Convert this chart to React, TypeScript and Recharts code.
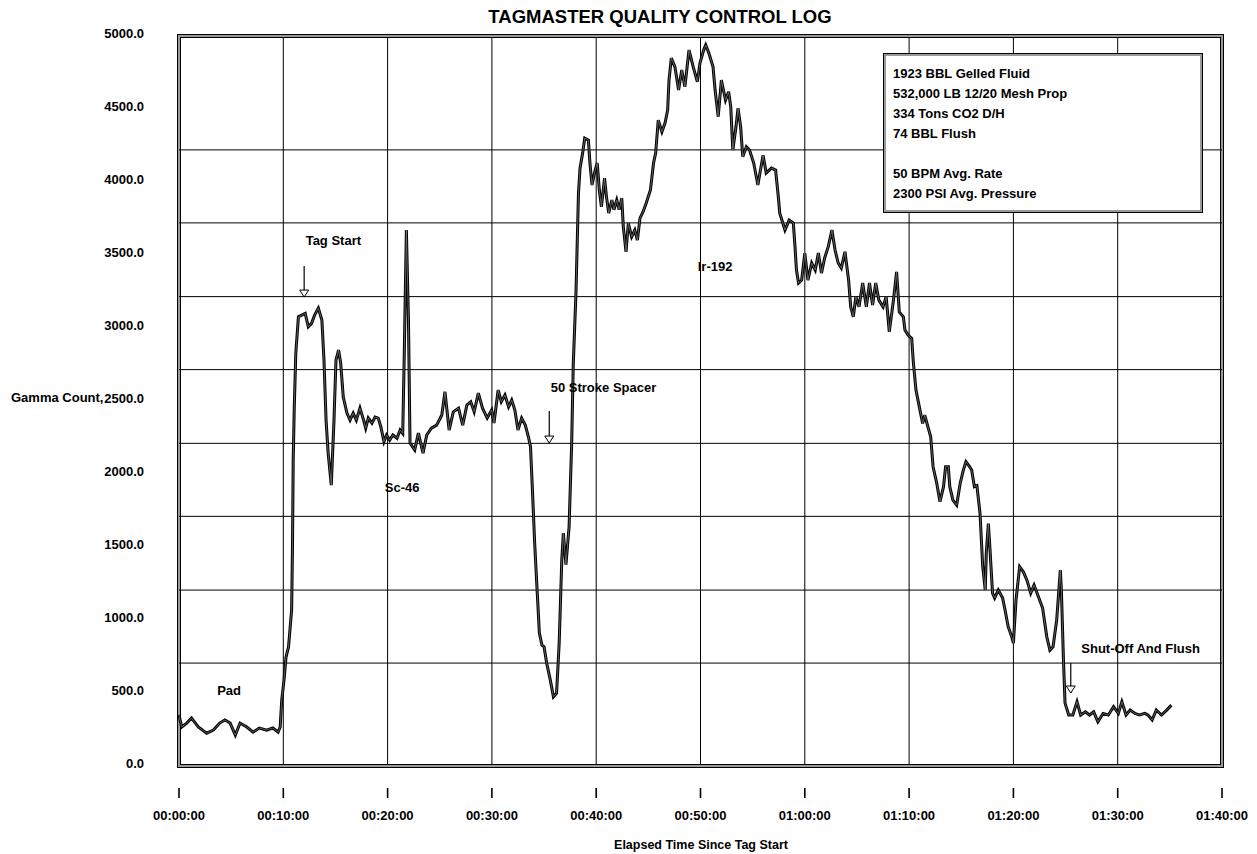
import {
  LineChart,
  Line,
  XAxis,
  YAxis,
  CartesianGrid,
  ReferenceLine,
  ReferenceArea,
  ReferenceDot,
} from 'recharts'

const FONT = "'Liberation Sans', Arial, Helvetica, sans-serif"

// elapsed minutes since tag start
const elapsedMin = [
  0.0, 0.26, 0.74, 1.2, 1.85, 2.65, 3.3, 3.9, 4.4, 4.9, 5.4, 5.85, 6.5, 7.1, 7.7, 8.4, 9.0, 9.5, 9.7,
  9.85, 10.07, 10.26, 10.5, 10.8, 10.88, 10.95, 11.05, 11.2, 11.45, 11.76, 12.1, 12.4, 12.7, 13.0,
  13.36, 13.7, 13.9, 14.1, 14.3, 14.6, 14.86, 15.05, 15.3, 15.5, 15.75, 16.1, 16.4, 16.7, 17.0, 17.35,
  17.7, 17.9, 18.15, 18.5, 18.8, 19.1, 19.35, 19.65, 19.9, 20.2, 20.5, 20.9, 21.2, 21.45, 21.6, 21.8,
  22.0, 22.15, 22.6, 22.95, 23.4, 23.75, 24.2, 24.7, 25.2, 25.5, 25.9, 26.3, 26.8, 27.2, 27.6, 27.97,
  28.3, 28.7, 29.1, 29.55, 29.98, 30.2, 30.6, 30.9, 31.25, 31.6, 31.9, 32.2, 32.5, 32.85, 33.2, 33.5,
  33.7, 33.9, 34.1, 34.35, 34.55, 34.8, 35.0, 35.25, 35.6, 35.9, 36.2, 36.45, 36.7, 36.85, 37.1, 37.4,
  37.65, 37.8, 38.06, 38.3, 38.45, 38.7, 38.9, 39.25, 39.4, 39.6, 39.9, 40.1, 40.3, 40.5, 40.8, 41.0,
  41.2, 41.5, 41.7, 41.97, 42.2, 42.45, 42.6, 42.86, 43.08, 43.4, 43.7, 43.95, 44.2, 44.5, 44.8, 45.2,
  45.5, 45.7, 45.95, 46.3, 46.6, 46.85, 46.98, 47.2, 47.55, 47.9, 48.2, 48.5, 48.9, 49.3, 49.7, 49.95,
  50.3, 50.5, 50.8, 51.2, 51.4, 51.7, 52.0, 52.4, 52.7, 52.9, 53.1, 53.4, 53.6, 53.85, 54.05, 54.4,
  54.7, 55.1, 55.5, 56.0, 56.3, 56.8, 57.2, 57.46, 57.6, 58.1, 58.5, 58.9, 59.06, 59.2, 59.4, 59.7,
  60.0, 60.3, 60.66, 61.0, 61.3, 61.6, 61.9, 62.25, 62.6, 62.9, 63.2, 63.5, 63.85, 64.2, 64.4, 64.65,
  64.9, 65.2, 65.55, 65.9, 66.2, 66.5, 66.8, 67.1, 67.5, 67.8, 68.1, 68.5, 68.8, 69.06, 69.45, 69.6,
  69.9, 70.25, 70.4, 70.66, 70.98, 71.3, 71.5, 71.8, 72.07, 72.3, 72.65, 72.96, 73.3, 73.5, 73.76,
  73.9, 74.2, 74.56, 74.9, 75.2, 75.45, 75.8, 76.0, 76.26, 76.5, 76.8, 77.06, 77.3, 77.4, 77.6, 77.76,
  78.0, 78.2, 78.55, 78.97, 79.2, 79.5, 79.84, 80.0, 80.25, 80.6, 80.95, 81.3, 81.66, 81.98, 82.4,
  82.8, 83.2, 83.5, 83.8, 84.15, 84.5, 84.6, 84.8, 84.95, 85.3, 85.7, 86.1, 86.45, 86.9, 87.3, 87.7,
  88.1, 88.6, 89.1, 89.6, 90.06, 90.4, 90.8, 91.2, 91.66, 92.1, 92.6, 92.9, 93.3, 93.7, 94.2, 94.7,
  95.15,
]

// gamma count
const gammaCount = [
  350, 267, 294, 328, 267, 225, 246, 294, 315, 294, 212, 294, 267, 232, 260, 246, 260, 232, 267,
  452, 588, 746, 815, 1070, 1500, 2100, 2450, 2830, 3077, 3088, 3100, 3008, 3030, 3088,
  3136, 3054, 2780, 2369, 2143, 1924, 2369, 2780, 2849, 2760, 2527, 2417, 2369, 2417, 2369, 2451,
  2369, 2314, 2383, 2348, 2390, 2383, 2324, 2221, 2267, 2232, 2267, 2245, 2301, 2278, 2828, 3671,
  3054, 2212, 2164, 2280, 2143, 2267, 2314, 2335, 2404, 2563, 2301, 2426, 2451, 2335, 2472, 2495,
  2426, 2554, 2451, 2383, 2438, 2349, 2575, 2495, 2541, 2460, 2506, 2438, 2301, 2383, 2335, 2255,
  2187, 1869, 1527, 1184, 910, 828, 817, 705, 588, 474, 499, 842, 1410, 1595, 1380, 1638,
  2212, 2750, 3239, 3924, 4095, 4198, 4301, 4287, 4130, 3979, 4082, 4130, 3945, 3830, 4027, 3890,
  3787, 3876, 3810, 3876, 3810, 3890, 3693, 3522, 3719, 3625, 3670, 3602, 3753, 3796, 3856, 3945,
  4130, 4198, 4424, 4344, 4404, 4493, 4698, 4849, 4789, 4630, 4767, 4652, 4904, 4789, 4686, 4814,
  4904, 4938, 4883, 4789, 4630, 4447, 4698, 4561, 4618, 4515, 4219, 4378, 4506, 4378, 4173, 4241,
  4219, 4130, 3979, 4184, 4061, 4095, 4082, 3899, 3787, 3671, 3739, 3719, 3557, 3397, 3308, 3328,
  3513, 3328, 3445, 3397, 3513, 3376, 3479, 3557, 3671, 3534, 3445, 3410, 3522, 3328, 3145, 3077,
  3214, 3145, 3308, 3145, 3308, 3157, 3308, 3191, 3145, 3214, 2974, 3191, 3385, 3110, 3077, 2986,
  2952, 2929, 2770, 2575, 2460, 2346, 2404, 2324, 2255, 2050, 1937, 1810, 1913, 2050, 2050,
  1913, 1821, 1787, 1937, 2027, 2084, 2050, 2027, 1913, 1920, 1730, 1365, 1205, 1458, 1661, 1479,
  1184, 1150, 1205, 1150, 1068, 954, 885, 842, 1136, 1365, 1330, 1273, 1184, 1239, 1159,
  1082, 885, 794, 817, 999, 1342, 1205, 725, 431, 349, 349, 440, 349, 371, 349, 371,
  303, 360, 349, 406, 360, 440, 349, 383, 360, 349, 360, 349, 315, 383, 349, 383,
  417,
]

const timeTicks = [0, 10, 20, 30, 40, 50, 60, 70, 80, 90, 100]
const countTicks = [0, 500, 1000, 1500, 2000, 2500, 3000, 3500, 4000, 4500, 5000]
const gridCounts = [4220, 3720, 3215, 2715, 2210, 1710, 1205, 705]

const noteLabels = ['Pad', 'Tag Start', 'Sc-46', '50 Stroke Spacer', 'Ir-192', 'Shut-Off And Flush']
const noteTimes = [4.8, 14.8, 21.4, 40.7, 51.4, 92.2]
const noteCounts = [520, 3600, 1910, 2596, 3420, 808]

const arrowTimes = [12.0, 35.5, 85.5]
const arrowTops = [3425, 2432, 705]
const arrowTips = [3212, 2212, 500]

const boxLines = [
  '1923 BBL Gelled Fluid',
  '532,000 LB 12/20 Mesh Prop',
  '334 Tons CO2 D/H',
  '74 BBL Flush',
  '',
  '50 BPM Avg. Rate',
  '2300 PSI Avg. Pressure',
]

const data = elapsedMin.map((t, i) => ({ t, gamma: gammaCount[i] }))

function fmtTime(min: number) {
  const h = Math.floor(min / 60)
  const m = Math.floor(min % 60)
  const pad = (n: number) => String(n).padStart(2, '0')
  return `${pad(h)}:${pad(m)}:00`
}

const textStyle = {
  fontFamily: FONT,
  fontWeight: 700,
  fontSize: 13,
  fill: '#000',
}

function CountTick({ x, y, payload }: any) {
  return (
    <text x={x - 35} y={y - 3} dy="0.355em" textAnchor="end" {...textStyle}>
      {Number(payload.value).toFixed(1)}
    </text>
  )
}

function TimeTick({ x, y, payload }: any) {
  return (
    <g>
      <line x1={x} x2={x} y1={y + 22} y2={y + 32} stroke="#000" strokeWidth={1.6} />
      <text x={x} y={y + 49} dy="0.355em" textAnchor="middle" {...textStyle}>
        {fmtTime(payload.value)}
      </text>
    </g>
  )
}

function NoteText(label: string) {
  return ({ cx, cy }: any) => (
    <text x={cx} y={cy} dy="0.355em" textAnchor="middle" {...textStyle}>
      {label}
    </text>
  )
}

function ArrowHead({ cx, cy }: any) {
  return (
    <path
      d={`M${cx},${cy} L${cx - 4.5},${cy - 7} L${cx + 4.5},${cy - 7} Z`}
      fill="#fff"
      stroke="#000"
      strokeWidth={1}
    />
  )
}

export default function App() {
  return (
    <div
      style={{
        position: 'absolute',
        left: 0,
        top: 0,
        width: 1257,
        height: 854,
        background: '#fff',
        fontFamily: FONT,
      }}
    >
      <div
        style={{
          position: 'absolute',
          left: 0,
          top: 6,
          width: 1320,
          lineHeight: '22px',
          textAlign: 'center',
          fontSize: 18.5,
          fontWeight: 700,
        }}
      >
        TAGMASTER QUALITY CONTROL LOG
      </div>
      <div
        style={{
          position: 'absolute',
          left: 11,
          top: 388,
          lineHeight: '20px',
          fontSize: 13,
          fontWeight: 700,
          whiteSpace: 'nowrap',
        }}
      >
        Gamma Count,
      </div>
      <div
        style={{
          position: 'absolute',
          left: 0,
          top: 835,
          width: 1402,
          lineHeight: '20px',
          textAlign: 'center',
          fontSize: 12.5,
          fontWeight: 700,
        }}
      >
        Elapsed Time Since Tag Start
      </div>

      <LineChart
        width={1257}
        height={854}
        data={data}
        margin={{ top: 36, right: 35, bottom: 0, left: 0 }}
      >
        <CartesianGrid horizontal={false} vertical stroke="#000" strokeWidth={1} />
        <XAxis
          dataKey="t"
          type="number"
          domain={[0, 100]}
          ticks={timeTicks}
          interval={0}
          height={88}
          axisLine={false}
          tickLine={false}
          tickSize={0}
          tickMargin={0}
          tick={<TimeTick />}
        />
        <YAxis
          type="number"
          domain={[0, 5000]}
          ticks={countTicks}
          interval={0}
          width={179}
          axisLine={false}
          tickLine={false}
          tickSize={0}
          tickMargin={0}
          tick={<CountTick />}
        />
        {gridCounts.map((v) => (
          <ReferenceLine key={v} y={v} stroke="#000" strokeWidth={1} />
        ))}
        <Line
          type="linear"
          dataKey="gamma"
          stroke="#000"
          strokeWidth={3}
          dot={false}
          isAnimationActive={false}
        />
        <Line
          type="linear"
          dataKey="gamma"
          stroke="#777"
          strokeWidth={0.8}
          dot={false}
          isAnimationActive={false}
        />
        {arrowTimes.map((t, i) => (
          <ReferenceLine
            key={`a${i}`}
            segment={[
              { x: t, y: arrowTops[i] },
              { x: t, y: arrowTips[i] },
            ]}
            stroke="#000"
            strokeWidth={1.2}
          />
        ))}
        {arrowTimes.map((t, i) => (
          <ReferenceDot key={`h${i}`} x={t} y={arrowTips[i]} r={0} shape={<ArrowHead />} />
        ))}
        {noteLabels.map((label, i) => (
          <ReferenceDot
            key={label}
            x={noteTimes[i]}
            y={noteCounts[i]}
            r={0}
            shape={NoteText(label)}
          />
        ))}
        <ReferenceArea x1={0} x2={100} y1={0} y2={5000} fill="none" stroke="#000" strokeWidth={4} />
        <ReferenceArea x1={0} x2={100} y1={0} y2={5000} fill="none" stroke="#9a9a9a" strokeWidth={2} />
      </LineChart>

      <div
        style={{
          position: 'absolute',
          left: 883,
          top: 53,
          width: 320,
          height: 160,
          boxSizing: 'border-box',
          background: '#fff',
          border: '1px solid #000',
          boxShadow: 'inset -2px -2px 0 #999, inset 2px 2px 0 #999',
          padding: '10px 0 0 9px',
          fontSize: 13,
          fontWeight: 700,
          lineHeight: '20px',
          whiteSpace: 'nowrap',
        }}
      >
        {boxLines.map((line, i) => (
          <div key={i}>{line || '\u00a0'}</div>
        ))}
      </div>
    </div>
  )
}
